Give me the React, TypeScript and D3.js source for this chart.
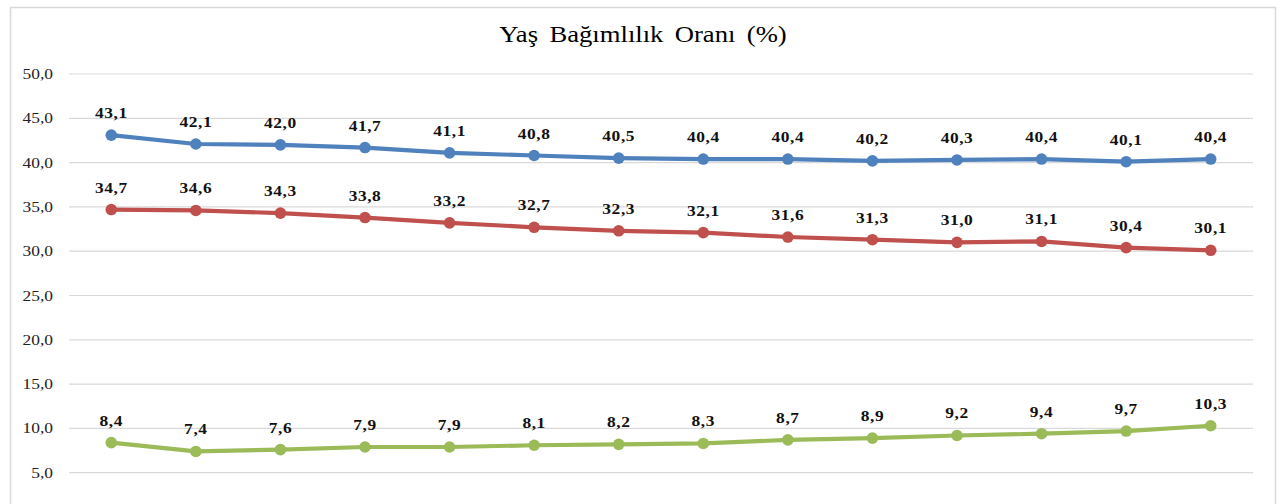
import { line, scaleLinear, scalePoint } from "d3";

// x labels are cut off in the picture, years are a guess
const years = [
  "2007", "2008", "2009", "2010", "2011", "2012", "2013",
  "2014", "2015", "2016", "2017", "2018", "2019", "2020",
];
const totalRatio = [43.1, 42.1, 42.0, 41.7, 41.1, 40.8, 40.5, 40.4, 40.4, 40.2, 40.3, 40.4, 40.1, 40.4];
const youngRatio = [34.7, 34.6, 34.3, 33.8, 33.2, 32.7, 32.3, 32.1, 31.6, 31.3, 31.0, 31.1, 30.4, 30.1];
const oldRatio = [8.4, 7.4, 7.6, 7.9, 7.9, 8.1, 8.2, 8.3, 8.7, 8.9, 9.2, 9.4, 9.7, 10.3];
const yTicks = [5, 10, 15, 20, 25, 30, 35, 40, 45, 50];

const series = [
  { name: "Toplam", values: totalRatio, color: "#4f81bd" },
  { name: "Genç", values: youngRatio, color: "#c0504d" },
  { name: "Yaşlı", values: oldRatio, color: "#9bbb59" },
];

const fmt = (v: number) => v.toFixed(1).replace(".", ",");

// the picture is a bit wider than tall, so text gets stretched sideways
const stretch = 1.16;
const at = (px: number, py: number) => `translate(${px},${py}) scale(${stretch},1)`;

export default function App() {
  const width = 1285;
  const height = 504;
  const plotLeft = 69;
  const plotRight = 1253;

  const x = scalePoint<string>()
    .domain(years)
    .range([plotLeft, plotRight])
    .padding(0.5);

  const y = scaleLinear().domain([0, 50]).range([517, 74]);

  const serif = { fontFamily: "Liberation Serif, DejaVu Serif, serif" };

  return (
    <svg
      width={width}
      height={height}
      style={{ position: "absolute", left: 0, top: 0, background: "#fff" }}
    >
      <rect x={10.5} y={7.5} width={1265} height={520} fill="#fff" stroke="#d9d9d9" strokeWidth={1.5} />

      <text
        transform={at(643, 42)}
        textAnchor="middle"
        style={serif}
        fontSize={23}
        wordSpacing={4}
        fill="#000"
      >
        Yaş Bağımlılık Oranı (%)
      </text>

      {yTicks.map((t) => (
        <g key={t}>
          <line x1={plotLeft} x2={plotRight} y1={y(t)} y2={y(t)} stroke="#d9d9d9" strokeWidth={1.2} />
          <text
            transform={at(53, y(t) + 5)}
            textAnchor="end"
            style={serif}
            fontSize={15}
            fill="#222"
          >
            {fmt(t)}
          </text>
        </g>
      ))}

      {series.map((s) => {
        const path = line<number>()
          .x((_, i) => x(years[i]) ?? 0)
          .y((v) => y(v))(s.values);
        return (
          <g key={s.name}>
            <path d={path ?? ""} fill="none" stroke={s.color} strokeWidth={4.2} strokeLinejoin="round" />
            {s.values.map((v, i) => (
              <circle key={i} cx={x(years[i])} cy={y(v)} r={5.8} fill={s.color} />
            ))}
            {s.values.map((v, i) => (
              <text
                key={`l${i}`}
                transform={at(x(years[i]) ?? 0, y(v) - 17)}
                textAnchor="middle"
                style={serif}
                fontWeight="bold"
                fontSize={15}
                letterSpacing={0.5}
                fill="#111"
              >
                {fmt(v)}
              </text>
            ))}
          </g>
        );
      })}
    </svg>
  );
}
